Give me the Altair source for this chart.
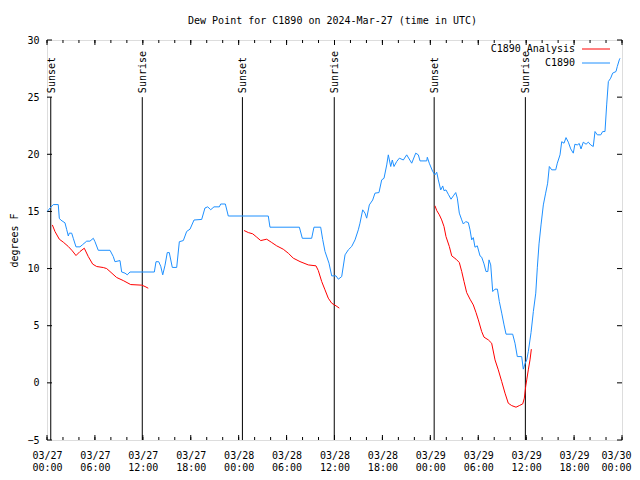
import json
import altair as alt
import pandas as pd

FONT = "DejaVu Sans Mono"
TITLE = "Dew Point for C1890 on 2024-Mar-27 (time in UTC)"

# hours since 2024-03-27 00:00 UTC
OBS_H = [0.04, 0.38, 0.79, 1.41, 1.54, 1.72, 2.25, 2.47, 2.67, 2.79, 3.09, 3.29, 3.63, 4.13, 4.47,
         4.97, 5.38, 5.80, 6.01, 6.42, 7.89, 8.30, 8.51, 9.14, 9.35, 9.77, 10.05, 10.39, 13.44,
         13.65, 13.99, 14.24, 14.49, 14.78, 15.06, 15.31, 15.69, 16.24, 16.57, 17.07, 17.49,
         17.91, 18.41, 19.37, 19.78, 20.12, 20.50, 20.91, 21.58, 21.75, 22.33, 22.70, 27.71,
         27.92, 31.6, 31.97, 33.14, 33.43, 34.27, 34.52, 34.81, 35.31, 35.65, 36.19, 36.48, 36.9,
         37.32, 37.73, 38.15, 38.57, 38.98, 39.19, 39.53, 39.82, 40.03, 40.36, 40.78, 41.07,
         41.57, 41.91, 42.2, 42.54, 42.74, 43.04, 43.24, 43.45, 43.79, 44.12, 44.62, 45.04,
         45.67, 46.17, 46.5, 46.71, 47.55, 47.62, 47.87, 48.3, 48.58, 48.8, 49.0, 49.3, 49.55,
         49.71, 49.96, 50.25, 50.59, 50.88, 51.18, 51.38, 51.63, 51.93, 52.13, 52.43, 52.76,
         52.97, 53.18, 53.38, 53.59, 53.88, 54.22, 54.43, 54.72, 54.97, 55.2, 55.35, 55.56,
         55.81, 56.1, 56.4, 56.64, 56.94, 57.23, 57.48, 58.31, 58.6, 58.89, 59.44, 59.64, 59.85,
         60.07, 60.27, 60.61, 60.9, 61.2, 61.4, 61.61, 61.86, 62.15, 62.44, 62.69, 62.9, 63.2,
         63.7, 63.9, 64.24, 64.45, 64.74, 64.99, 65.28, 65.58, 65.9, 66.1, 66.4, 66.65, 66.87,
         67.15, 67.5, 67.78, 68.08, 68.4, 68.62, 68.91, 69.34, 69.58, 69.87, 70.08, 70.29,
         70.58, 70.83, 71.25, 71.41, 71.66, 71.75]
OBS_V = [15.0, 15.3, 15.6, 15.6, 14.4, 14.25, 14.0, 13.4, 12.85, 13.1, 13.1, 12.65, 11.9, 11.9, 12.1,
         12.4, 12.4, 12.65, 12.35, 11.6, 11.6, 11.05, 10.6, 10.7, 9.7, 9.6, 9.45, 9.7, 9.7,
         10.6, 10.6, 10.2, 9.45, 10.3, 11.4, 11.4, 10.1, 10.1, 12.35, 12.45, 13.25,
         13.45, 14.25, 14.3, 15.3, 15.4, 15.15, 15.4, 15.4, 15.65, 15.65, 14.6, 14.6,
         13.62, 13.62, 12.65, 12.65, 13.62, 13.62, 12.55, 11.5, 10.47, 9.36, 9.36, 9.07, 9.3,
         11.2, 11.64, 11.93, 12.51, 13.39, 13.97, 15.14, 14.85, 14.41, 15.57, 16.0, 16.6,
         16.65, 17.76, 17.9, 19.07, 19.95, 18.93, 19.5, 18.93, 19.37, 19.66, 19.5, 19.95,
         19.22, 20.1, 19.95, 19.42, 19.42, 19.74, 19.22, 18.49, 18.2, 18.43, 17.76, 16.88, 17.23,
         16.82, 16.88, 16.5, 16.07, 16.36, 16.65, 16.16, 14.85, 14.26, 13.9, 14.11, 14.02,
         13.39, 12.51, 12.71, 11.87, 11.99, 11.11, 11.0, 10.41, 9.74, 9.74, 10.76, 10.32,
         7.99, 8.2, 8.2, 7.11, 6.1, 5.07, 4.26, 4.26, 3.47, 2.3, 2.3, 1.2, 1.66,
         2.01, 2.74, 4.4, 6.24, 7.85, 10.12, 12.16, 13.82, 15.57, 16.6, 17.47, 18.93, 18.64,
         18.64, 19.22, 19.95, 21.1, 20.97, 21.46, 21.06, 20.47, 20.1, 20.88, 20.82, 20.94, 20.47,
         21.06, 20.88, 21.06, 20.82, 20.68, 21.99, 21.7, 21.7, 21.99, 21.99, 24.32, 26.36,
         26.66, 27.1, 27.24, 27.68, 28.26, 28.4]

ANA1_H = [0.67, 1.0, 1.54, 2.04, 2.67, 3.17, 3.63, 4.13, 4.67, 5.17, 5.72, 6.22, 7.05, 7.47, 7.89,
          8.72, 9.55, 10.48, 11.86, 12.27, 12.68]
ANA1_V = [13.82, 13.24, 12.57, 12.31, 11.93, 11.55, 11.14, 11.49, 11.78, 11.05, 10.39, 10.18, 10.09,
          10.0, 9.74, 9.22, 8.95, 8.6, 8.55, 8.43, 8.28]
ANA2_H = [24.67, 25.21, 25.76, 26.26, 26.76, 27.51, 28.14, 28.76, 29.59, 30.22, 30.84, 31.68, 32.72,
          33.68, 33.97, 34.4, 34.81, 35.22, 35.65, 36.19, 36.6]
ANA2_V = [13.33, 13.15, 13.04, 12.75, 12.45, 12.57, 12.28, 11.99, 11.69, 11.34, 10.91, 10.61, 10.32,
          10.24, 9.83, 8.86, 8.14, 7.41, 6.97, 6.74, 6.54]
ANA3_H = [48.58, 48.8, 49.13, 49.42, 49.71, 49.96, 50.38, 50.68, 51.22, 51.63, 51.93, 52.22, 52.55,
          52.97, 53.38, 53.72, 54.01, 54.43, 54.72, 55.26, 55.68, 56.1, 56.51, 56.94, 57.35, 57.76,
          58.19, 58.73, 59.14, 59.57, 59.77, 59.94, 60.07, 60.27, 60.48, 60.65]
ANA3_V = [15.5, 15.08, 14.7, 14.26, 13.68, 12.8, 11.93, 11.11, 10.82, 10.53, 9.74, 8.86, 7.9,
          7.32, 6.82, 6.15, 5.51, 4.49, 4.0, 3.76, 3.47, 2.01, 1.14, 0.11, -0.9, -1.78,
          -1.99, -2.13, -1.99, -1.84, -1.34, -0.32, 0.26, 1.14, 2.01, 2.95]

SUN_H = [0.47, 11.93, 24.47, 35.97, 48.48, 59.9]
SUN_LABEL = ["Sunset", "Sunrise", "Sunset", "Sunrise", "Sunset", "Sunrise"]

X_TICKS = list(range(0, 73, 6))
X_MINOR = list(range(0, 73, 2))
X_LABELS = ["03/27|00:00", "03/27|06:00", "03/27|12:00", "03/27|18:00",
            "03/28|00:00", "03/28|06:00", "03/28|12:00", "03/28|18:00",
            "03/29|00:00", "03/29|06:00", "03/29|12:00", "03/29|18:00", "03/30|00:00"]
Y_TICKS = [-5, 0, 5, 10, 15, 20, 25, 30]

SERIES = ["C1890 Analysis", "C1890"]
COLORS = ["#ff0000", "#1e90ff"]

W, H = 575, 400

obs = pd.DataFrame({"h": OBS_H, "v": OBS_V})
ana = pd.concat([
    pd.DataFrame({"h": ANA1_H, "v": ANA1_V, "seg": 1}),
    pd.DataFrame({"h": ANA2_H, "v": ANA2_V, "seg": 2}),
    pd.DataFrame({"h": ANA3_H, "v": ANA3_V, "seg": 3}),
])
sun = pd.DataFrame({"h": SUN_H, "label": SUN_LABEL, "top": 25, "bot": -5})
xt = pd.DataFrame({"h": X_TICKS})
xm = pd.DataFrame({"h": X_MINOR})
yt = pd.DataFrame({"v": Y_TICKS})

label_expr = "split(" + json.dumps(X_LABELS) + "[round(datum.value/6)], '|')"
last = X_TICKS[-1]

xscale = alt.Scale(domain=[0, 72], nice=False, zero=False)
yscale = alt.Scale(domain=[-5, 30], nice=False, zero=False)

xaxis = alt.Axis(values=X_TICKS, labelExpr=label_expr, ticks=False, domain=False, grid=False,
                 title=None, labelFont=FONT, labelFontSize=10, labelColor="black",
                 labelPadding=10, labelLineHeight=12, labelAngle=0, labelOverlap=False,
                 labelFlush=False,
                 labelAlign=alt.condition(f"datum.value == {last}", alt.value("right"),
                                          alt.value("center")),
                 labelOffset=alt.condition(f"datum.value == {last}", alt.value(9),
                                           alt.value(0)))
yaxis = alt.Axis(values=Y_TICKS, ticks=False, domain=False, grid=False, title="degrees F",
                 labelFont=FONT, labelFontSize=10, labelColor="black", labelPadding=8,
                 titleFont=FONT, titleFontSize=10, titleFontWeight="normal", titleColor="black",
                 titleX=-33, titleY=200, titleAngle=270, titleAlign="center",
                 titleBaseline="middle")

X = alt.X("h:Q", scale=xscale, axis=xaxis)
Y = alt.Y("v:Q", scale=yscale, axis=yaxis)

sun_rules = alt.Chart(sun).mark_rule(color="black", strokeWidth=1).encode(
    x=alt.X("h:Q", scale=xscale), y=alt.Y("top:Q", scale=yscale), y2="bot:Q")
sun_text = alt.Chart(sun).mark_text(angle=270, align="left", baseline="middle", dx=4, dy=1,
                                    font=FONT, fontSize=10, color="black").encode(
    x=alt.X("h:Q", scale=xscale), y=alt.Y("top:Q", scale=yscale), text="label:N")

obs_line = alt.Chart(obs).mark_line(color=COLORS[1], strokeWidth=1).encode(x=X, y=Y)
ana_line = alt.Chart(ana).mark_line(color=COLORS[0], strokeWidth=1).encode(
    x=alt.X("h:Q", scale=xscale), y=alt.Y("v:Q", scale=yscale), detail="seg:N")

tick_bot = alt.Chart(xt).mark_rule(color="black").encode(
    x=alt.X("h:Q", scale=xscale), y=alt.value(H), y2=alt.value(H - 5))
tick_top = alt.Chart(xt).mark_rule(color="black").encode(
    x=alt.X("h:Q", scale=xscale), y=alt.value(0), y2=alt.value(5))
mtick_bot = alt.Chart(xm).mark_rule(color="black").encode(
    x=alt.X("h:Q", scale=xscale), y=alt.value(H), y2=alt.value(H - 3))
mtick_top = alt.Chart(xm).mark_rule(color="black").encode(
    x=alt.X("h:Q", scale=xscale), y=alt.value(0), y2=alt.value(3))
tick_l = alt.Chart(yt).mark_rule(color="black").encode(
    y=alt.Y("v:Q", scale=yscale), x=alt.value(0), x2=alt.value(5))
tick_r = alt.Chart(yt).mark_rule(color="black").encode(
    y=alt.Y("v:Q", scale=yscale), x=alt.value(W), x2=alt.value(W - 5))

leg = []
for i, (name, col) in enumerate(zip(SERIES, COLORS)):
    ypix = 9 + 14 * i
    leg.append(alt.Chart(obs.head(1)).mark_text(align="right", baseline="middle", font=FONT,
                                                fontSize=10, color="black").encode(
        x=alt.value(528), y=alt.value(ypix), text=alt.datum(name)))
    leg.append(alt.Chart(obs.head(1)).mark_rule(color=col, strokeWidth=1).encode(
        x=alt.value(535), x2=alt.value(563), y=alt.value(ypix)))

chart = alt.layer(
    sun_rules, sun_text, tick_bot, tick_top, mtick_bot, mtick_top, tick_l, tick_r,
    obs_line, ana_line, *leg
).properties(
    width=W, height=H,
    title=alt.TitleParams(TITLE, font=FONT, fontSize=10, fontWeight="normal", color="black",
                          anchor="middle", offset=1, baseline="alphabetic", dx=-2),
    padding={"left": 39, "top": 32, "right": 10, "bottom": 32},
    autosize=alt.AutoSizeParams(type="none"),
).configure_view(stroke="black", strokeWidth=1).configure(background="white")

chart.save("out.html", embed_options={"renderer": "svg", "actions": False})
